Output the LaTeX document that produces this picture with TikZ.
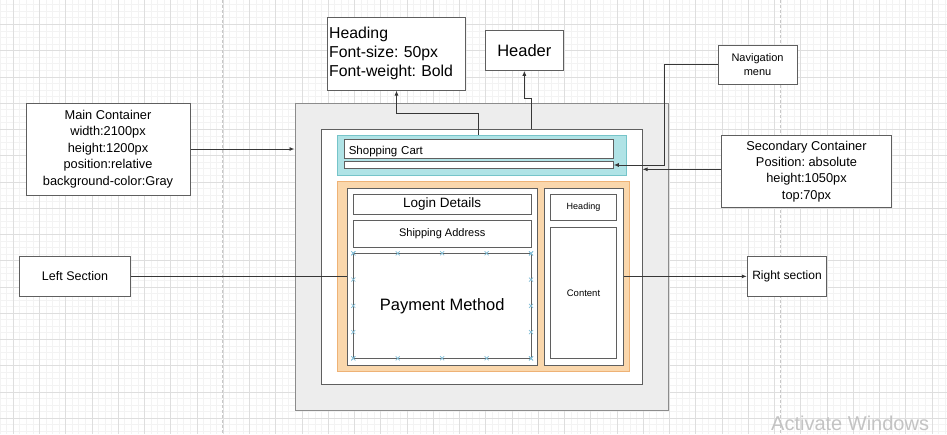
\documentclass[tikz,border=0pt]{standalone}
\usepackage{fontspec}
\setmainfont{Liberation Sans}
\usetikzlibrary{arrows.meta}
\frenchspacing
\definecolor{gridmaj}{RGB}{222,222,222}
\definecolor{gridmin}{RGB}{243,243,243}
\definecolor{pagedash}{RGB}{200,200,200}
\definecolor{boxline}{RGB}{95,95,95}
\definecolor{connline}{RGB}{55,55,55}
\definecolor{grayfill}{RGB}{237,237,237}
\definecolor{grayline}{RGB}{140,140,140}
\definecolor{tealfill}{RGB}{176,227,230}
\definecolor{tealline}{RGB}{118,196,201}
\definecolor{orangefill}{RGB}{250,215,172}
\definecolor{orangeline}{RGB}{238,178,118}
\definecolor{xmarkcol}{RGB}{130,190,215}
\definecolor{watermark}{RGB}{195,195,195}
\tikzset{
  box/.style={draw=boxline, fill=white, line width=1pt, inner sep=0pt, align=center},
  conn/.style={draw=connline, line width=0.9pt},
  arr/.style={conn, -{Latex[length=5pt,width=4pt]}},
  xmark/.style={draw=xmarkcol, line width=0.7pt},
  fsz/.style={font=\fontsize{#1}{#1}\selectfont}
}
\begin{document}
\begin{tikzpicture}[x=1pt,y=-1pt]
\useasboundingbox (0,0) rectangle (947,434);
\clip (0,0) rectangle (947,434);
% grid
\foreach \k in {-2,...,143} {
  \draw[gridmin, line width=0.5pt] ({13.1+6.5625*\k},0) -- ({13.1+6.5625*\k},434);
}
\foreach \k in {-4,...,64} {
  \draw[gridmin, line width=0.5pt] (0,{24.3+6.5625*\k}) -- (947,{24.3+6.5625*\k});
}
\foreach \k in {-1,...,36} {
  \draw[gridmaj, line width=0.6pt] ({13.1+26.25*\k},0) -- ({13.1+26.25*\k},434);
}
\foreach \k in {-1,...,16} {
  \draw[gridmaj, line width=0.6pt] (0,{24.3+26.25*\k}) -- (947,{24.3+26.25*\k});
}
\draw[pagedash, line width=0.8pt, dash pattern=on 3pt off 2pt] (222.5,0) -- (222.5,434);
\draw[pagedash, line width=0.8pt, dash pattern=on 3pt off 2pt] (780,0) -- (780,434);

% containers
\node[box, draw=grayline, fill=grayfill, minimum width=373pt, minimum height=307pt] (gray) at (481.5,256.5) {};
\node[box, minimum width=321pt, minimum height=255pt] (inner) at (481.5,256.5) {};
\node[box, draw=tealline, fill=tealfill, minimum width=289pt, minimum height=40pt] (teal) at (482.2,155) {};
\node[box, minimum width=269pt, minimum height=19pt, text width=260pt, align=left, fsz=11.5, text height=11pt, text depth=0pt] (cart) at (478.8,148.5) {Shopping Cart};
\node[box, minimum width=269pt, minimum height=6.6pt] (navbar) at (478.8,165) {};
\node[box, draw=orangeline, fill=orangefill, minimum width=291.6pt, minimum height=190pt] (orange) at (483.5,276.7) {};
\node[box, minimum width=189.6pt, minimum height=176.7pt] (leftcol) at (442.5,276.7) {};
\node[box, minimum width=79pt, minimum height=176.7pt] (rightcol) at (583.8,276.7) {};
\node[box, minimum width=177.7pt, minimum height=20pt, fsz=13.5] (login) at (442.2,204.3) {Login Details};
\node[box, minimum width=177.7pt, minimum height=26.6pt, fsz=11] (ship) at (442.2,234) {Shipping Address};
\node[box, minimum width=177.7pt, minimum height=105pt, fsz=16.5] (pay) at (442.2,305.8) {Payment Method};
\node[box, minimum width=66.4pt, minimum height=26.4pt, fsz=9] (rhead) at (583.5,207.5) {Heading};
\node[box, minimum width=66.4pt, minimum height=131pt, fsz=9.5] (content) at (583.5,292.8) {Content};

% connection point marks on Payment Method
\foreach \f in {0,0.25,0.5,0.75,1} {
  \pgfmathsetmacro{\xx}{353.3+177.7*\f}
  \pgfmathsetmacro{\yy}{253.3+105*\f}
  \draw[xmark] (\xx-2,251.3) -- (\xx+2,255.3) (\xx-2,255.3) -- (\xx+2,251.3);
  \draw[xmark] (\xx-2,356.3) -- (\xx+2,360.3) (\xx-2,360.3) -- (\xx+2,356.3);
  \draw[xmark] (351.3,\yy-2) -- (355.3,\yy+2) (351.3,\yy+2) -- (355.3,\yy-2);
  \draw[xmark] (529,\yy-2) -- (533,\yy+2) (529,\yy+2) -- (533,\yy-2);
}

% annotation boxes
\node[box, minimum width=164pt, minimum height=92pt, font=\fontsize{12.8}{16.5}\selectfont] (mainc) at (108,149)
  {Main Container\\width:2100px\\height:1200px\\position:relative\\background-color:Gray};
\node[box, minimum width=137.6pt, minimum height=72.7pt, text width=134.6pt, inner xsep=1.5pt, align=left, font=\fontsize{15.8}{19}\selectfont] (headbox) at (396.5,53.65)
  {Heading\\Font-size: 50px\\Font-weight: Bold};
\node[box, minimum width=78.7pt, minimum height=39.6pt, fsz=16.5] (header) at (524.35,50.5) {Header};
\node[box, minimum width=79pt, minimum height=39.3pt, font=\fontsize{11}{14}\selectfont] (nav) at (757.5,64.65) {Navigation\\menu};
\node[box, minimum width=170.4pt, minimum height=71.6pt, font=\fontsize{12.8}{16.3}\selectfont] (sec) at (806.5,171.5)
  {Secondary Container\\Position: absolute\\height:1050px\\top:70px};
\node[box, minimum width=111.4pt, minimum height=39.3pt, fsz=12.5] (left) at (75,276.35) {Left Section};
\node[box, minimum width=79.4pt, minimum height=39.3pt, fsz=12] (right) at (787,276.35) {Right section};
\coordinate (secin) at ([yshift=2.2pt]sec.west);

% connectors
\draw[arr] (mainc.east) -- (gray.west |- mainc.east);
\draw[arr] ([xshift=-3.5pt]teal.north) -- ++(0,-20.7) -| (headbox.south);
\draw[arr] ([xshift=49.8pt]inner.north) -- ++(0,-29.7) -| (header.south);
\draw[arr] (nav.west) -- ++(-52.7,0) |- (navbar.east);
\draw[arr] (secin) -- (inner.east |- secin);
\draw[conn] (left.east) -- (leftcol.west |- left.east);
\draw[arr] (rightcol.east |- right.west) -- (right.west);

% watermark
\node[anchor=base west, inner sep=0pt, text=watermark, font=\fontsize{20}{22}\selectfont] (wm) at (771,430) {Activate Windows};
\end{tikzpicture}
\end{document}
